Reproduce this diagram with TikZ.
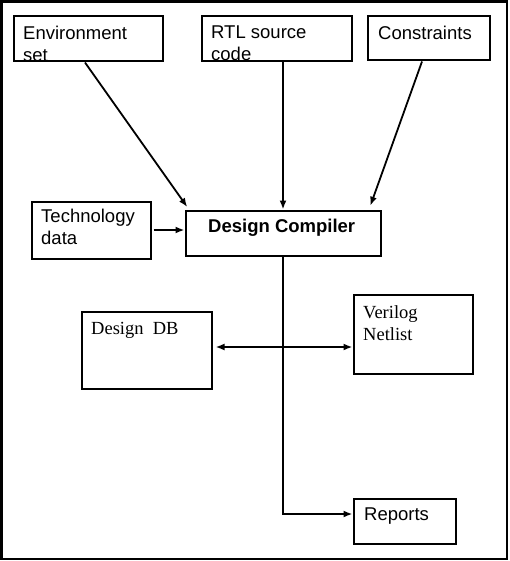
\documentclass[tikz,border=0pt]{standalone}
\usepackage{fontspec}
\setmainfont{Liberation Serif}
\setsansfont{Liberation Sans}
\usetikzlibrary{arrows.meta}

\begin{document}
\begin{tikzpicture}
            [x=1pt, y=-1pt,
            box/.style={draw, line width=2pt, rectangle, inner sep=0pt},
            txt/.style={anchor=north west, inner sep=0pt, align=left, font=\sffamily\fontsize{18.5}{22}\selectfont},
            rmtxt/.style={txt, font=\rmfamily\fontsize{18.5}{22}\selectfont},
            edge/.style={line width=1.8pt, -{Latex[length=9pt,width=7pt]}},
            both/.style={line width=1.8pt, {Latex[length=9pt,width=7pt]}-{Latex[length=9pt,width=7pt]}}]

            \useasboundingbox (0,0) rectangle (509,561);
            \draw[line width=2.5pt] (1.5,1.5) rectangle (507,559);

            % boxes
            \node[box, minimum width=149pt, minimum height=45pt] (env) at (88,39) {};
            \node[box, minimum width=150pt, minimum height=45pt] (rtl) at (276.5,39) {};
            \node[box, minimum width=122pt, minimum height=44pt] (cons) at (428.5,38.5) {};
            \node[box, minimum width=119pt, minimum height=57pt] (tech) at (91,230) {};
            \node[box, minimum width=195pt, minimum height=45pt] (dc) at (283,233) {};
            \node[box, minimum width=130pt, minimum height=77pt] (db) at (146.5,350) {};
            \node[box, minimum width=119pt, minimum height=79pt] (vn) at (413,334) {};
            \node[box, minimum width=102pt, minimum height=45pt] (rep) at (404.5,521) {};

            % texts
            \node[txt] (envtxt) at (23,26) {Environment\\set};
            \node[txt] (rtltxt) at (211,26) {RTL source\\code};
            \node[txt] (constxt) at (378,26) {Constraints};
            \node[txt] (techtxt) at (41,209) {Technology\\data};
            \node[txt, font=\sffamily\bfseries\fontsize{18.5}{22}\selectfont] (dctxt) at (208,219) {Design Compiler};
            \node[rmtxt] (dbtxt) at (91,322) {Design~ DB};
            \node[rmtxt] (vntxt) at (363,305) {Verilog\\Netlist};
            \node[txt] (reptxt) at (364,508) {Reports};

            % connectors
            \draw[edge, shorten >=3pt] ([xshift=-3pt]env.south) -- ([xshift=-94pt]dc.north);
            \draw[edge] (dc.north |- rtl.south) -- (dc.north);
            \draw[edge, shorten >=4pt] ([xshift=-6.5pt]cons.south) -- ([xshift=86pt]dc.north);
            \draw[edge, shorten <=2pt] (tech.east) -- (tech.east -| dc.west);
            \draw[edge] (dc.south) |- ([yshift=7pt]rep.west);
            \draw[both, shorten <=3pt] ([yshift=3pt]db.east) -- ([yshift=3pt]db.east -| vn.west);

        \end{tikzpicture}
\end{document}
